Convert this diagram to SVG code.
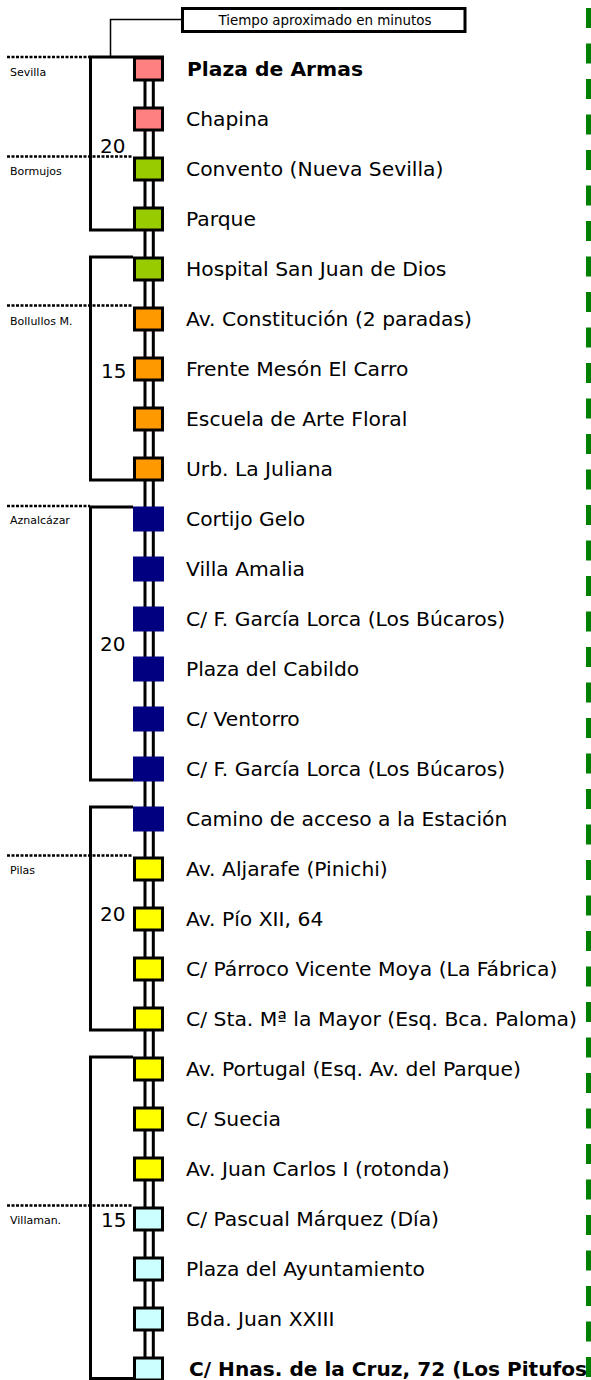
<svg xmlns="http://www.w3.org/2000/svg" width="591" height="1380" viewBox="0 0 591 1380">
<style>
.sq{stroke:#000;stroke-width:3}
.pk{fill:#FF8080}.gr{fill:#99CC00}.or{fill:#FF9900}.nv{fill:#000080}.ye{fill:#FFFF00}.cy{fill:#CCFFFF}
.lbl{font-family:"DejaVu Sans",Verdana,sans-serif;font-size:20.3px;fill:#000}
.b{font-weight:bold}
.num{font-family:"DejaVu Sans",Verdana,sans-serif;font-size:20px;fill:#000}
.town{font-family:"DejaVu Sans",Verdana,sans-serif;font-size:11px;fill:#000}
.rail{stroke:#000;stroke-width:3;fill:none}
.br{stroke:#000;stroke-width:3;fill:none}
.dot{stroke:#000;stroke-width:2.5;stroke-dasharray:3 1.5;fill:none}
</style>
<rect width="591" height="1380" fill="#fff"/>
<g id="connectors">
<line class="rail" x1="145" y1="70" x2="145" y2="1380"/>
<line class="rail" x1="153.3" y1="70" x2="153.3" y2="1380"/>
<path d="M181,19.5 H110.5 V57" stroke="#000" stroke-width="1.5" fill="none"/>
</g>
<g id="title-box">
<rect x="182.5" y="8.5" width="282.5" height="23" fill="#fff" stroke="#000" stroke-width="3"/>
<text x="325" y="25" text-anchor="middle" font-family="DejaVu Sans, Verdana, sans-serif" font-size="14" textLength="213" lengthAdjust="spacingAndGlyphs">Tiempo aproximado en minutos</text>
</g>
<g id="brackets">
<path class="br" d="M164,57 H90.5 V230 H133"/>
<path class="br" d="M133,257 H90.5 V480 H133"/>
<path class="br" d="M133,507 H90.5 V780 H133"/>
<path class="br" d="M133,807 H90.5 V1030 H133"/>
<path class="br" d="M133,1057 H90.5 V1378.5 H133"/>
<text class="num" x="100" y="153">20</text>
<text class="num" x="101" y="378">15</text>
<text class="num" x="100" y="651">20</text>
<text class="num" x="100" y="921">20</text>
<text class="num" x="101" y="1227">15</text>
</g>
<g id="towns">
<line class="dot" x1="7" y1="57" x2="90" y2="57"/><text class="town" x="10" y="76">Sevilla</text>
<line class="dot" x1="7" y1="156.5" x2="133" y2="156.5"/><text class="town" x="10" y="175">Bormujos</text>
<line class="dot" x1="7" y1="305.5" x2="133" y2="305.5"/><text class="town" x="10" y="324.5">Bollullos M.</text>
<line class="dot" x1="7" y1="506" x2="90" y2="506"/><text class="town" x="10" y="524">Aznalcázar</text>
<line class="dot" x1="7" y1="855.5" x2="133" y2="855.5"/><text class="town" x="10" y="874">Pilas</text>
<line class="dot" x1="7" y1="1205.5" x2="133" y2="1205.5"/><text class="town" x="10" y="1224">Villaman.</text>
</g>
<g id="stop-0" transform="translate(0,56.5)"><rect class="sq pk" x="134.5" y="1.5" width="28" height="22"/><text class="lbl b" x="187" y="19.5">Plaza de Armas</text></g>
<g id="stop-1" transform="translate(0,106.5)"><rect class="sq pk" x="134.5" y="1.5" width="28" height="22"/><text class="lbl" x="186" y="19.5">Chapina</text></g>
<g id="stop-2" transform="translate(0,156.5)"><rect class="sq gr" x="134.5" y="1.5" width="28" height="22"/><text class="lbl" x="186" y="19.5">Convento (Nueva Sevilla)</text></g>
<g id="stop-3" transform="translate(0,206.5)"><rect class="sq gr" x="134.5" y="1.5" width="28" height="22"/><text class="lbl" x="186" y="19.5">Parque</text></g>
<g id="stop-4" transform="translate(0,256.5)"><rect class="sq gr" x="134.5" y="1.5" width="28" height="22"/><text class="lbl" x="186" y="19.5">Hospital San Juan de Dios</text></g>
<g id="stop-5" transform="translate(0,306.5)"><rect class="sq or" x="134.5" y="1.5" width="28" height="22"/><text class="lbl" x="186" y="19.5">Av. Constitución (2 paradas)</text></g>
<g id="stop-6" transform="translate(0,356.5)"><rect class="sq or" x="134.5" y="1.5" width="28" height="22"/><text class="lbl" x="186" y="19.5">Frente Mesón El Carro</text></g>
<g id="stop-7" transform="translate(0,406.5)"><rect class="sq or" x="134.5" y="1.5" width="28" height="22"/><text class="lbl" x="186" y="19.5">Escuela de Arte Floral</text></g>
<g id="stop-8" transform="translate(0,456.5)"><rect class="sq or" x="134.5" y="1.5" width="28" height="22"/><text class="lbl" x="186" y="19.5">Urb. La Juliana</text></g>
<g id="stop-9" transform="translate(0,506.5)"><rect class="nv" x="133" y="0" width="31" height="25"/><text class="lbl" x="186" y="19.5">Cortijo Gelo</text></g>
<g id="stop-10" transform="translate(0,556.5)"><rect class="nv" x="133" y="0" width="31" height="25"/><text class="lbl" x="186" y="19.5">Villa Amalia</text></g>
<g id="stop-11" transform="translate(0,606.5)"><rect class="nv" x="133" y="0" width="31" height="25"/><text class="lbl" x="186" y="19.5">C/ F. García Lorca (Los Búcaros)</text></g>
<g id="stop-12" transform="translate(0,656.5)"><rect class="nv" x="133" y="0" width="31" height="25"/><text class="lbl" x="186" y="19.5">Plaza del Cabildo</text></g>
<g id="stop-13" transform="translate(0,706.5)"><rect class="nv" x="133" y="0" width="31" height="25"/><text class="lbl" x="186" y="19.5">C/ Ventorro</text></g>
<g id="stop-14" transform="translate(0,756.5)"><rect class="nv" x="133" y="0" width="31" height="25"/><text class="lbl" x="186" y="19.5">C/ F. García Lorca (Los Búcaros)</text></g>
<g id="stop-15" transform="translate(0,806.5)"><rect class="nv" x="133" y="0" width="31" height="25"/><text class="lbl" x="186" y="19.5">Camino de acceso a la Estación</text></g>
<g id="stop-16" transform="translate(0,856.5)"><rect class="sq ye" x="134.5" y="1.5" width="28" height="22"/><text class="lbl" x="186" y="19.5">Av. Aljarafe (Pinichi)</text></g>
<g id="stop-17" transform="translate(0,906.5)"><rect class="sq ye" x="134.5" y="1.5" width="28" height="22"/><text class="lbl" x="186" y="19.5">Av. Pío XII, 64</text></g>
<g id="stop-18" transform="translate(0,956.5)"><rect class="sq ye" x="134.5" y="1.5" width="28" height="22"/><text class="lbl" x="186" y="19.5">C/ Párroco Vicente Moya (La Fábrica)</text></g>
<g id="stop-19" transform="translate(0,1006.5)"><rect class="sq ye" x="134.5" y="1.5" width="28" height="22"/><text class="lbl" x="186" y="19.5" textLength="391" lengthAdjust="spacingAndGlyphs">C/ Sta. Mª la Mayor (Esq. Bca. Paloma)</text></g>
<g id="stop-20" transform="translate(0,1056.5)"><rect class="sq ye" x="134.5" y="1.5" width="28" height="22"/><text class="lbl" x="186" y="19.5">Av. Portugal (Esq. Av. del Parque)</text></g>
<g id="stop-21" transform="translate(0,1106.5)"><rect class="sq ye" x="134.5" y="1.5" width="28" height="22"/><text class="lbl" x="186" y="19.5">C/ Suecia</text></g>
<g id="stop-22" transform="translate(0,1156.5)"><rect class="sq ye" x="134.5" y="1.5" width="28" height="22"/><text class="lbl" x="186" y="19.5">Av. Juan Carlos I (rotonda)</text></g>
<g id="stop-23" transform="translate(0,1206.5)"><rect class="sq cy" x="134.5" y="1.5" width="28" height="22"/><text class="lbl" x="186" y="19.5">C/ Pascual Márquez (Día)</text></g>
<g id="stop-24" transform="translate(0,1256.5)"><rect class="sq cy" x="134.5" y="1.5" width="28" height="22"/><text class="lbl" x="186" y="19.5">Plaza del Ayuntamiento</text></g>
<g id="stop-25" transform="translate(0,1306.5)"><rect class="sq cy" x="134.5" y="1.5" width="28" height="22"/><text class="lbl" x="186" y="19.5">Bda. Juan XXIII</text></g>
<g id="stop-26" transform="translate(0,1356.5)"><rect class="sq cy" x="134.5" y="1.5" width="28" height="22"/><text class="lbl b" x="189" y="19.5" textLength="398" lengthAdjust="spacingAndGlyphs">C/ Hnas. de la Cruz, 72 (Los Pitufos</text></g>
<g id="border-line">
<line x1="588.5" y1="8" x2="588.5" y2="1380" stroke="#008000" stroke-width="5" stroke-dasharray="20 15.5"/>
</g>
</svg>
